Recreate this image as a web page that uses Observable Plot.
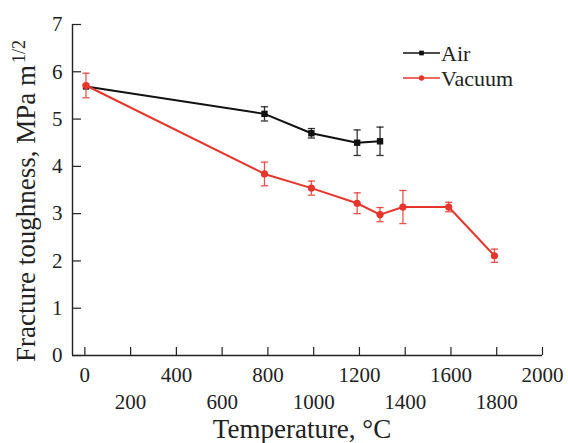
<!DOCTYPE html>
<html><head><meta charset="utf-8">
<script src="https://cdn.jsdelivr.net/npm/d3@7"></script>
<script src="https://cdn.jsdelivr.net/npm/@observablehq/plot@0.6"></script>
<style>body{margin:0;background:#fff} #chart{position:relative;width:568px;height:443px}</style>
</head><body><div id="chart"></div>
<script>
// Data
const airT = [5, 785, 990, 1190, 1290];
const airK = [5.69, 5.11, 4.70, 4.50, 4.53];
const airErr = [0, 0.15, 0.10, 0.27, 0.30];
const vacT = [5, 785, 990, 1190, 1290, 1390, 1590, 1790];
const vacK = [5.71, 3.84, 3.54, 3.22, 2.98, 3.14, 3.14, 2.11];
const vacErr = [0.26, 0.25, 0.15, 0.22, 0.15, 0.35, 0.10, 0.14];
const xTicksTop = [0, 400, 800, 1200, 1600, 2000];
const xTicksBottom = [200, 600, 1000, 1400, 1800];
const yTicks = [0, 1, 2, 3, 4, 5, 6, 7];
const seriesNames = ["Air", "Vacuum"];

const BLACK = "#111111", RED = "#e8352c";
const air = airT.map((t, i) => ({t, k: airK[i], lo: airK[i] - airErr[i], hi: airK[i] + airErr[i], e: airErr[i]}));
const vac = vacT.map((t, i) => ({t, k: vacK[i], lo: vacK[i] - vacErr[i], hi: vacK[i] + vacErr[i], e: vacErr[i]}));
const xMin = -54, xMax = 2000;

const capSymbol = {draw(ctx) { ctx.moveTo(-3.6, 0); ctx.lineTo(3.6, 0); }};
const font = "Liberation Serif";
const axisCol = "#222";

function errMarks(data, color) {
  const d = data.filter(v => v.e > 0);
  return [
    Plot.ruleX(d, {x: "t", y1: "lo", y2: "hi", stroke: color, strokeWidth: 1.3, strokeOpacity: 0.85}),
    Plot.dot(d, {x: "t", y: "hi", symbol: capSymbol, stroke: color, strokeWidth: 1.3, strokeOpacity: 0.85, fill: "none"}),
    Plot.dot(d, {x: "t", y: "lo", symbol: capSymbol, stroke: color, strokeWidth: 1.3, strokeOpacity: 0.85, fill: "none"})
  ];
}

const chart = Plot.plot({
  width: 568, height: 443,
  marginLeft: 72, marginRight: 26, marginTop: 24, marginBottom: 88,
  style: {fontFamily: font, background: "#fff", overflow: "visible"},
  x: {domain: [xMin, xMax], axis: null},
  y: {domain: [0, 7], axis: null},
  marks: [
    Plot.axisY(yTicks, {tickSize: -9, tickPadding: 19, fontSize: 21, tickFormat: d => String(d), stroke: axisCol, fill: axisCol, strokeWidth: 1.2, label: null}),
    Plot.axisX(xTicksTop, {tickSize: -8, tickPadding: 19.8, fontSize: 21, tickFormat: d => String(d), stroke: axisCol, fill: axisCol, strokeWidth: 1.2, label: null}),
    Plot.axisX(xTicksBottom, {tickSize: -8, tickPadding: 46.4, fontSize: 21, tickFormat: d => String(d), stroke: axisCol, fill: axisCol, strokeWidth: 1.2, label: null}),
    Plot.ruleY([0], {stroke: axisCol, strokeWidth: 1.4}),
    Plot.ruleX([xMin], {stroke: axisCol, strokeWidth: 1.4}),
    ...errMarks(air, BLACK),
    Plot.line(air, {x: "t", y: "k", stroke: BLACK, strokeWidth: 2}),
    Plot.dot(air, {x: "t", y: "k", symbol: "square", r: 3.6, fill: BLACK, stroke: "none"}),
    ...errMarks(vac, RED),
    Plot.line(vac, {x: "t", y: "k", stroke: RED, strokeWidth: 2}),
    Plot.dot(vac, {x: "t", y: "k", symbol: "circle", r: 3.6, fill: RED, stroke: "none"})
  ]
});
document.getElementById("chart").appendChild(chart);

const svg = d3.select(chart);
// Axis titles
svg.append("text").attr("x", 302).attr("y", 438).attr("text-anchor", "middle")
  .attr("font-family", font).attr("font-size", 27).attr("fill", axisCol).text("Temperature, °C");
const yt = svg.append("text").attr("transform", "translate(35,362) rotate(-90)").attr("text-anchor", "start")
  .attr("font-family", font).attr("font-size", 27).attr("fill", axisCol);
yt.append("tspan").text("Fracture toughness, MPa m");
yt.append("tspan").attr("dy", -10).attr("dx", 2).attr("font-size", 18).text("1/2");

// Legend
const legend = [{name: seriesNames[0], color: BLACK, sym: d3.symbolSquare, y: 53, by: 60.5}, {name: seriesNames[1], color: RED, sym: d3.symbolCircle, y: 78, by: 86}];
legend.forEach(l => {
  svg.append("line").attr("x1", 403).attr("x2", 440).attr("y1", l.y).attr("y2", l.y).attr("stroke", l.color).attr("stroke-width", 1.6);
  svg.append("path").attr("d", d3.symbol(l.sym, 22)()).attr("transform", `translate(421.5,${l.y})`).attr("fill", l.color);
  svg.append("text").attr("x", 441).attr("y", l.by).attr("text-anchor", "start").attr("font-family", font).attr("font-size", 22).attr("fill", axisCol).text(l.name);
});
</script>
</body></html>
